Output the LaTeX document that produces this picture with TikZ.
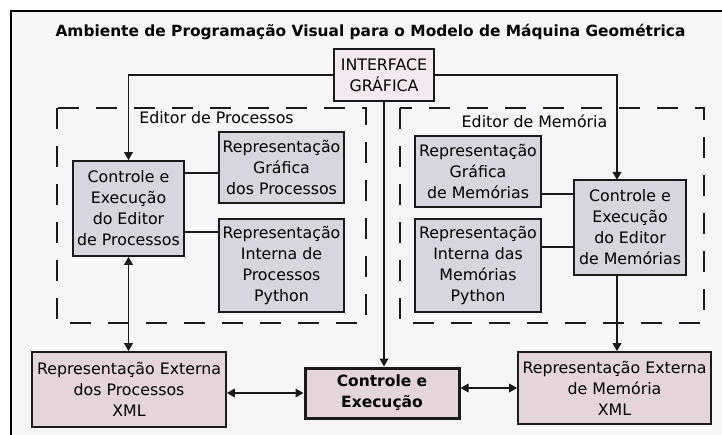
\documentclass[tikz,border=0pt]{standalone}
\usepackage{fontspec}
\setmainfont{DejaVu Sans}
\usetikzlibrary{arrows.meta,calc}
\definecolor{bgc}{HTML}{F6F5F8}
\definecolor{grayfill}{HTML}{D8D5DF}
\definecolor{pinkfill}{HTML}{E5D5DA}
\definecolor{ifacefill}{HTML}{F4E8F1}
\definecolor{edge}{HTML}{1A1A1A}
\tikzset{
  txt/.style={font=\fontsize{15.8}{21}\selectfont, align=center, inner sep=0pt},
  basebox/.style={txt, draw=edge, line width=1.6pt},
  graybox/.style={basebox, fill=grayfill},
  pinkbox/.style={basebox, fill=pinkfill},
  ifacebox/.style={basebox, fill=ifacefill},
  mainbox/.style={basebox, fill=pinkfill, line width=3pt, font=\fontsize{15.5}{21}\selectfont\bfseries},
  conn/.style={draw=edge, line width=1.7pt},
  arr/.style={conn, -{Triangle[length=8pt,width=8.5pt]}},
  biarr/.style={conn, {Triangle[length=8pt,width=8.5pt]}-{Triangle[length=8pt,width=8.5pt]}},
  dashbox/.style={draw=edge, line width=1.8pt, dash pattern=on 21pt off 17pt},
}
\begin{document}
\begin{tikzpicture}[x=1pt,y=-1pt]
\useasboundingbox (0,0) rectangle (722,435);
\fill[white] (0,0) rectangle (722,435);
\filldraw[fill=bgc, draw=black, line width=2pt] (11,11) rectangle (745,460);

\node[txt, font=\fontsize{15.4}{21}\selectfont\bfseries, anchor=base] (title) at (370.5,37) {Ambiente de Programação Visual para o Modelo de Máquina Geométrica};

% dashed editor frames
\draw[dashbox] (57,108) rectangle (366,323);
\draw[dashbox] (400,108) rectangle (704,323);
\node[txt] (lblp) at (216.5,118) {Editor de Processos};
\node[txt] (lblm) at (534.5,121) {Editor de Memória};

% boxes
\node[ifacebox, minimum width=100pt, minimum height=52pt] (iface) at (384,75) {INTERFACE\\GRÁFICA};
\node[graybox, minimum width=111pt, minimum height=95pt] (cep) at (128.5,208.5) {Controle e\\Execução\\do Editor\\de Processos};
\node[graybox, minimum width=125pt, minimum height=71pt] (rgp) at (281.5,167.5) {Representação\\Gráfica\\dos Processos};
\node[graybox, minimum width=125pt, minimum height=93pt] (rip) at (281.5,265.5) {Representação\\Interna de\\Processos\\Python};
\node[graybox, minimum width=112pt, minimum height=95pt] (cem) at (630,227.5) {Controle e\\Execução\\do Editor\\de Memórias};
\node[graybox, minimum width=126pt, minimum height=71pt] (rgm) at (478,171.5) {Representação\\Gráfica\\de Memórias};
\node[graybox, minimum width=126pt, minimum height=93pt] (rim) at (478,265.5) {Representação\\Interna das\\Memórias\\Python};
\node[pinkbox, minimum width=194pt, minimum height=75pt] (exp) at (129,389.5) {Representação Externa\\dos Processos\\XML};
\node[pinkbox, minimum width=193pt, minimum height=72pt] (exm) at (614.5,388) {Representação Externa\\de Memória\\XML};
\node[mainbox, minimum width=154pt, minimum height=50pt] (ctl) at (382,393) {Controle e\\Execução};

\coordinate (cemtop) at (617,180);

% connectors
\draw[arr] (iface.west) -| (cep.north);
\draw[arr] (iface.east) -| (cemtop);
\draw[arr] (iface.south) -- (iface.south |- ctl.north);
\draw[biarr] (cep.south) -- (cep.south |- exp.north);
\draw[conn] ([yshift=-5.5pt]rgp.west) -- ([yshift=-5.5pt]rgp.west -| cep.east);
\draw[conn] ([yshift=33.5pt]rip.west) -- ([yshift=33.5pt]rip.west -| cep.east);
\draw[conn] ([yshift=-22.5pt]rgm.east) -- ([yshift=-22.5pt]rgm.east -| cem.west);
\draw[conn] ([yshift=18.5pt]rim.east) -- ([yshift=18.5pt]rim.east -| cem.west);
\draw[arr] ([xshift=-13pt]cem.south) -- ([xshift=-13pt]cem.south |- exm.north);
\draw[biarr] (ctl.west) -- (ctl.west -| exp.east);
\draw[biarr] (ctl.east |- exm.west) -- (exm.west);
\end{tikzpicture}
\end{document}
